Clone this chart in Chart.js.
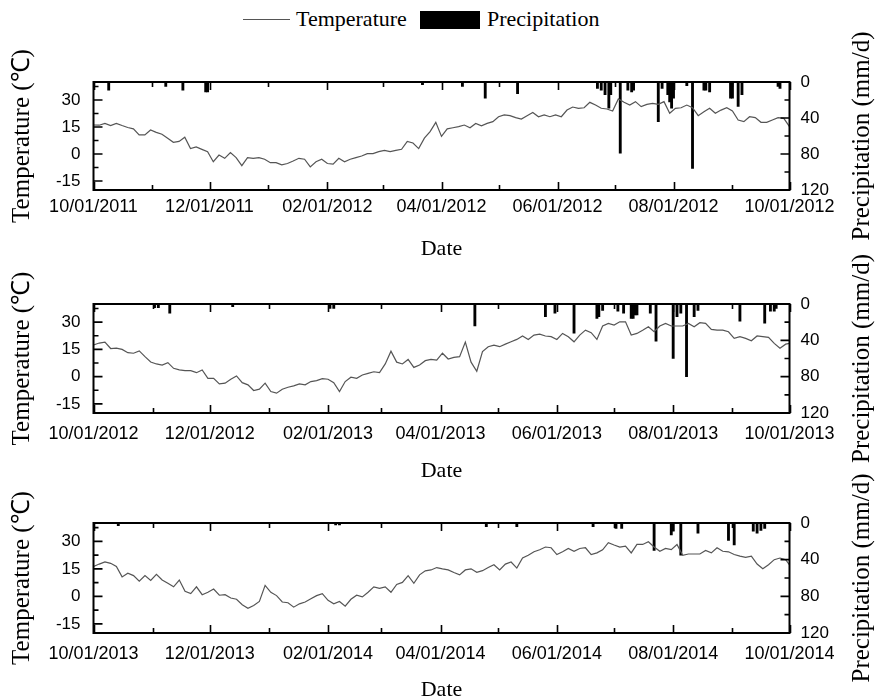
<!DOCTYPE html>
<html><head><meta charset="utf-8">
<script src="https://cdn.jsdelivr.net/npm/chart.js@4.4.1/dist/chart.umd.min.js"></script>
<style>
html,body{margin:0;padding:0;background:#fff;width:876px;height:697px;overflow:hidden;position:relative}
canvas{position:absolute;left:0}
.lg{position:absolute;font-family:"Liberation Serif",serif;font-size:22px;line-height:28px;color:#000;white-space:nowrap}
</style></head><body>
<span style="position:absolute;left:243px;top:19px;width:47px;border-top:1px solid #555"></span>
<span class="lg" style="left:296px;top:5px">Temperature</span>
<span style="position:absolute;left:420px;top:11px;width:60px;height:18px;background:#000"></span>
<span class="lg" style="left:487px;top:5px">Precipitation</span>
<canvas id="c1" width="876" height="242" style="top:20px"></canvas>
<canvas id="c2" width="876" height="250" style="top:240px"></canvas>
<canvas id="c3" width="876" height="255" style="top:455px"></canvas>
<script>
// ---------- DATA ----------
const STEP_DAYS = 3; // temperature sampled every 3 days from each panel's start date
const xLabels1 = ['10/01/2011','12/01/2011','02/01/2012','04/01/2012','06/01/2012','08/01/2012','10/01/2012'];
const xLabels2 = ['10/01/2012','12/01/2012','02/01/2013','04/01/2013','06/01/2013','08/01/2013','10/01/2013'];
const xLabels3 = ['10/01/2013','12/01/2013','02/01/2014','04/01/2014','06/01/2014','08/01/2014','10/01/2014'];
const tempTicks = [-15, 0, 15, 30];
const precipTicks = [0, 40, 80, 120];

const temp1 = [16.1,16,17,15.8,17,15.8,14.7,14,10.6,10.6,13.3,12,11,8.8,6.5,7,9.3,3,3.9,2.6,1.3,-4.3,-0.6,-2.4,0.8,-2,-6.5,-2,-2.4,-2,-2.9,-4.8,-4.8,-6,-5.3,-3.9,-2.4,-2.9,-7.2,-4.3,-2.9,-5.3,-5.6,-2.4,-4.3,-2.9,-2,-1.1,0.2,0.2,1.3,2,1.3,2,2.6,7,6.1,3,8.8,12.4,17.6,9.8,14,
14.6,15.2,16.1,14.6,17,15.7,17,18,20.7,21.7,21.3,20.2,19.4,21.3,23.1,20.7,21.7,20.7,21.7,20.7,24.4,26.1,25.4,25.7,28.7,27.2,25.4,25,23.9,30.6,28.7,27.2,29.1,26.3,27.6,28.1,27.6,29.1,22.6,25.4,25.7,27.2,25.7,21.3,23.5,25.4,22.6,24.4,25.7,23.9,18.9,18,20.7,20.2,17.6,17.6,18.9,20.2,19.8,15.2];
const temp2 = [17.4,18.5,19,15.5,15.7,15,13.2,12.9,14.2,11,8.1,7,6.4,7.7,4.6,3.7,3.3,3.3,2.2,3.7,-0.9,-0.9,-4,-3.6,-1.4,0.4,-3.3,-4.5,-7.6,-6.9,-3.6,-8.2,-9.1,-6.9,-5.8,-5.1,-4,-4.5,-2.7,-2.2,-1.1,-1.4,-3.3,-8.2,-2.7,-0.3,-0.9,0.9,1.8,2.7,2.2,7,14,8,7,9.5,5.1,6.4,8.8,9.5,9.1,12.9,
9.7,10.6,11,19,8,3,13.8,16.5,17.4,16.5,17.9,19.2,20.5,22.4,20.5,22.9,23.4,22.4,22,20.5,23.8,22,19.2,22.9,25.6,24.2,20.5,27.9,29.3,28.4,30.2,30.2,22.9,23.8,25.6,27.5,24.7,27.9,29.3,27.9,27.9,27.9,29.3,27.5,29.7,29.3,26,25.6,25.6,24.7,21.1,22,21.1,19.8,22.4,22,21.6,18.3,15.6,17.9,18.3];
const temp3 = [16.3,17.6,18.8,18,16.3,10.6,12.6,11.3,8.3,11.3,8.7,12,8.9,7.1,5.2,8.9,2.8,1.5,5.2,0.9,2.2,4,0.6,0.9,-0.9,-1.6,-4.6,-6.5,-5,-2.8,6,2.2,0.4,-3.1,-3.5,-5.9,-4.1,-3.1,-1.3,0.4,1.5,-2.2,-4.1,-2.8,-5.4,-1.6,0.6,-0.3,2.2,5.2,4.3,5.2,2.2,6.5,7.6,11.3,7.1,11.7,13.9,14.4,15.7,15,
14.4,13,11.7,14.4,15,13.1,14,15.7,17.2,14.4,17.6,18.7,15.4,20.9,22.4,24.3,25.4,26.9,26.5,22.8,24.3,26.1,24.6,26.1,26.5,22.8,23.7,25.4,29.3,28,26.9,27.4,23.7,28.3,28.3,29.8,26.9,24.6,26.1,25.5,28.3,22.4,23.1,23.1,23.1,25,23.7,26.5,24.6,24.3,22.8,21.9,21.3,21.9,17.6,15,17.2,20,20.9,20,17.2];

// precipitation: day number counted from the panel's start date, and amount (mm/d)
const precipDay1 = [8,38,47,59,60,173,194,206,223,265,267,269,271,272,277,281,283,284,297,299,302,303,304,305,312,315,321,322,324,335,336,339,341,360,361];
const precipVal1 = [9,5,9,11,11,3,5,18,13,7,9,14,29,14,79,9,11,9,44,7,14,22,29,18,4,96,9,9,11,18,18,27,14,5,7];
const precipDay2 = [32,34,40,73,124,126,200,237,242,252,264,265,267,275,278,282,283,284,285,292,295,304,306,308,311,315,317,339,352,355,357,358];
const precipVal2 = [4,4,10,3,5,5,24,14,10,32,16,14,7,8,10,16,16,12,12,10,41,60,14,10,80,14,7,19,21,8,8,5];
const precipDay3 = [13,127,129,206,222,262,274,277,294,303,304,308,317,333,336,346,348,350,352];
const precipVal3 = [3,2,2,4,4,4,6,6,30,13,9,35,11,19,24,9,11,8,6];

// ---------- HELPERS ----------
function dayNum(s){ const [m,d,y] = s.split('/').map(Number); return Date.UTC(y,m-1,d)/86400000; }
function monthTicks(labels){
  const [m,d,y] = labels[0].split('/').map(Number);
  const base = Date.UTC(y,m-1,d)/86400000, out = [];
  for (let k=1;k<12;k++) out.push(Date.UTC(y,m-1+k,1)/86400000 - base);
  return out;
}
const SERIF = '"Liberation Serif", "Times New Roman", serif';
const SANS = '"Liberation Sans", Arial, sans-serif';

function framePlugin(minor){
  return {
    id:'frame',
    afterDraw(chart){
      const {ctx, chartArea:a} = chart;
      const {x, y, y2} = chart.scales;
      ctx.save();
      ctx.strokeStyle = '#000';
      ctx.lineWidth = 1.6;
      ctx.beginPath();
      const vt = (v,len)=>{ const p = Math.round(x.getPixelForValue(v))+0.5; ctx.moveTo(p,a.bottom); ctx.lineTo(p,a.bottom-len); ctx.moveTo(p,a.top); ctx.lineTo(p,a.top+len); };
      x.ticks.forEach(t=>vt(t.value,8));
      minor.x.forEach(v=>vt(v,5));
      const lt = (v,len)=>{ const p = y.getPixelForValue(v); ctx.moveTo(a.left,p); ctx.lineTo(a.left+len,p); };
      y.ticks.forEach(t=>lt(t.value,9));
      minor.y.forEach(v=>lt(v,5));
      const rt = (v,len)=>{ const p = y2.getPixelForValue(v); ctx.moveTo(a.right,p); ctx.lineTo(a.right-len,p); };
      y2.ticks.forEach(t=>rt(t.value,9));
      minor.y2.forEach(v=>rt(v,5));
      ctx.stroke();
      ctx.lineWidth = 2;
      ctx.strokeRect(a.left, a.top, a.right-a.left, a.bottom-a.top);
      // right axis title, reading bottom to top
      const t = chart.options.scales.y2.title;
      ctx.fillStyle = '#000';
      ctx.font = '25px ' + SERIF;
      ctx.translate(862, (a.top+a.bottom)/2);
      ctx.rotate(-Math.PI/2);
      ctx.textAlign = 'center'; ctx.textBaseline = 'middle';
      ctx.fillText(t.text, 0, 0);
      ctx.restore();
    }
  };
}

function makePanel(id, labels, temps, pDays, pVals, L){
  const start = dayNum(labels[0]);
  const span = dayNum(labels[labels.length-1]) - start;
  const tickVals = labels.map(s=>dayNum(s)-start);
  const labelOf = {}; tickVals.forEach((v,i)=>labelOf[v]=labels[i]);
  const lineData = temps.map((t,i)=>({x:Math.min(i*STEP_DAYS, span), y:t}));
  const barData = pDays.map((d,i)=>({x:d, y:pVals[i]}));
  const canvas = document.getElementById(id);
  const H = canvas.height;
  new Chart(canvas, {
    type:'line',
    data:{datasets:[
      {type:'bar', label:'Precipitation', data:barData, xAxisID:'x', yAxisID:'y2', backgroundColor:'#000', borderWidth:0, barThickness:2.2, grouped:false, order:2},
      {type:'line', label:'Temperature', data:lineData, xAxisID:'x', yAxisID:'y', borderColor:'#555', borderWidth:1.2, pointRadius:0, tension:0, fill:false, order:1}
    ]},
    options:{
      responsive:false, animation:false, events:[],
      layout:{padding:{top:L.plotTop-L.canvasTop, left:0, right:0, bottom:0}},
      plugins:{legend:{display:false}, tooltip:{enabled:false}},
      scales:{
        x:{type:'linear', position:'bottom', min:0, max:span, offset:false,
           grid:{display:false, drawTicks:false, offset:false}, border:{display:false},
           afterBuildTicks:s=>{ s.ticks = tickVals.map(v=>({value:v})); },
           afterFit:s=>{ s.height = H - (L.plotBottom - L.canvasTop); },
           ticks:{autoSkip:false, maxRotation:0, minRotation:0, padding:L.labelPad, color:'#000',
                  font:{family:SANS, size:18}, callback:v=>labelOf[v]},
           title:{display:true, text:'Date', color:'#000', font:{family:SERIF, size:22}, padding:{top:0, bottom:L.datePad}}},
        y:{type:'linear', position:'left', min:-20, max:40,
           grid:{display:false, drawTicks:false}, border:{display:false},
           afterBuildTicks:s=>{ s.ticks = tempTicks.map(v=>({value:v})); },
           afterFit:s=>{ s.width = L.plotLeft; },
           ticks:{padding:13, color:'#000', font:{family:SANS, size:17}, callback:v=>String(v)},
           title:{display:true, text:'Temperature (℃)', color:'#000', font:{family:SERIF, size:25}, padding:{top:7, bottom:0}}},
        y2:{type:'linear', position:'right', min:0, max:120, reverse:true,
           grid:{display:false, drawTicks:false}, border:{display:false},
           afterBuildTicks:s=>{ s.ticks = precipTicks.map(v=>({value:v})); },
           afterFit:s=>{ s.width = 876 - L.plotRight; },
           ticks:{padding:11, color:'#000', font:{family:SANS, size:17}, callback:v=>String(v)},
           title:{display:false, text:'Precipitation (mm/d)'}}
      }
    },
    plugins:[framePlugin({x:monthTicks(labels).filter(v=>!tickVals.includes(v)), y:[-7.5,7.5,22.5,37.5], y2:[20,60,100]})]
  });
}

makePanel('c1', xLabels1, temp1, precipDay1, precipVal1, {canvasTop:20, plotTop:82, plotBottom:190, plotLeft:93.5, plotRight:789.5, labelPad:6, datePad:0});
makePanel('c2', xLabels2, temp2, precipDay2, precipVal2, {canvasTop:240, plotTop:304, plotBottom:413, plotLeft:93.5, plotRight:789.5, labelPad:10, datePad:6});
makePanel('c3', xLabels3, temp3, precipDay3, precipVal3, {canvasTop:455, plotTop:523, plotBottom:633, plotLeft:93.5, plotRight:789.5, labelPad:10, datePad:7});
</script>
</body></html>
